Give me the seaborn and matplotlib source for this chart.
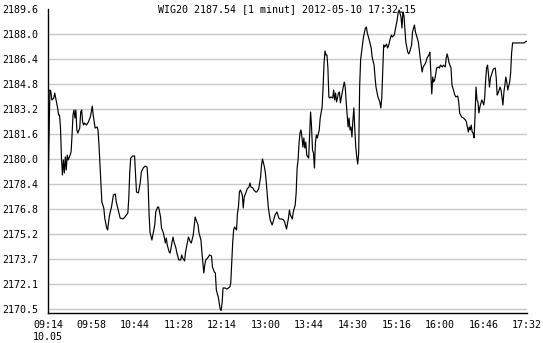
import numpy as np
import pandas as pd
import matplotlib
matplotlib.use("Agg")
import matplotlib.pyplot as plt
import seaborn as sns

title = "WIG20 2187.54 [1 minut] 2012-05-10 17:32:15"

# minutes after 09:14
minutes = [
    0, 1, 2, 3, 4, 6, 7, 8, 10, 11, 12, 13, 14, 15, 16, 17, 18, 19, 20, 21,
    23, 24, 25, 26, 27, 28, 29, 30, 31, 33, 34, 35, 36, 37, 38, 40, 42, 44, 45, 46,
    47, 48, 49, 51, 52, 53, 55, 56, 58, 59, 61, 62, 63, 64, 66, 68, 70, 71, 73, 75,
    78, 80, 83, 84, 85, 86, 88, 90, 91, 92, 94, 96, 97, 99, 101, 103, 104, 105, 106, 108,
    109, 111, 112, 114, 115, 117, 118, 120, 122, 123, 124, 126, 127, 129, 130, 131, 133, 134, 136, 138,
    139, 140, 142, 143, 145, 146, 148, 149, 151, 153, 154, 156, 157, 159, 160, 162, 163, 164, 166, 168,
    170, 171, 173, 174, 175, 177, 179, 180, 181, 182, 184, 186, 189, 190, 191, 192, 193, 194, 196, 197,
    198, 199, 200, 202, 203, 204, 206, 207, 209, 210, 211, 213, 214, 216, 217, 219, 220, 221, 222, 223,
    224, 225, 226, 227, 229, 231, 233, 234, 236, 238, 240, 241, 243, 245, 246, 248, 250, 251, 252, 254,
    255, 257, 258, 259, 260, 261, 262, 263, 264, 265, 266, 267, 268, 269, 271, 272, 273, 274, 275, 276,
    277, 278, 279, 280, 282, 283, 285, 286, 287, 288, 289, 290, 291, 292, 293, 294, 296, 297, 298, 299,
    300, 302, 303, 304, 306, 308, 309, 310, 311, 312, 313, 314, 315, 316, 317, 318, 319, 320, 321, 322,
    323, 324, 325, 326, 328, 330, 331, 332, 334, 336, 337, 339, 340, 341, 343, 345, 346, 347, 348, 349,
    350, 352, 353, 354, 356, 357, 358, 360, 361, 363, 364, 365, 367, 368, 369, 370, 371, 372, 374, 375,
    376, 378, 379, 381, 382, 383, 385, 386, 387, 388, 389, 390, 392, 393, 394, 396, 397, 398, 399, 400,
    401, 402, 403, 404, 406, 407, 408, 410, 411, 413, 414, 415, 416, 417, 419, 420, 422, 423, 424, 426,
    427, 428, 430, 432, 434, 435, 436, 437, 438, 439, 440, 441, 442, 443, 444, 445, 446, 447, 448, 449,
    451, 452, 453, 454, 455, 456, 457, 458, 459, 460, 462, 463, 465, 466, 467, 468, 470, 471, 473, 474,
    475, 476, 477, 478, 480, 481, 482, 483, 495, 497, 498,
]

prices = [
    2178.08, 2181.26, 2184.44, 2184.32, 2183.81, 2183.93, 2184.25, 2183.93, 2183.30, 2182.85,
    2182.85, 2182.02, 2180.11, 2179.03, 2179.99, 2179.16, 2180.18, 2179.35, 2180.30, 2179.99,
    2180.30, 2180.50, 2181.58, 2182.85, 2183.17, 2182.66, 2183.17, 2181.90, 2181.70, 2182.02,
    2183.04, 2183.17, 2182.41, 2182.21, 2182.34, 2182.21, 2182.41, 2182.72, 2183.04, 2183.42,
    2182.85, 2182.41, 2182.02, 2182.09, 2181.90, 2180.94, 2178.59, 2177.31, 2176.93, 2176.29,
    2175.66, 2175.53, 2176.04, 2176.48, 2176.99, 2177.76, 2177.82, 2177.31, 2176.80, 2176.29,
    2176.23, 2176.36, 2176.61, 2177.57, 2179.22, 2180.11, 2180.24, 2180.24, 2179.03, 2177.95,
    2177.89, 2178.59, 2179.22, 2179.48, 2179.60, 2179.54, 2178.59, 2176.68, 2175.40, 2174.89,
    2175.21, 2175.85, 2176.68, 2176.99, 2176.99, 2176.36, 2175.66, 2175.34, 2174.70, 2175.02,
    2174.57, 2174.13, 2174.06, 2174.77, 2175.08, 2174.77, 2174.38, 2174.06, 2173.62, 2173.62,
    2173.94, 2173.75, 2173.56, 2174.13, 2174.77, 2175.08, 2174.77, 2174.70, 2175.21, 2176.36,
    2176.17, 2175.85, 2175.34, 2174.89, 2174.13, 2172.79, 2173.30, 2173.62, 2173.75, 2173.94,
    2173.87, 2173.17, 2172.85, 2172.79, 2171.71, 2171.26, 2170.50, 2170.40, 2170.88, 2171.84,
    2171.84, 2171.77, 2171.90, 2172.15, 2173.43, 2174.70, 2175.53, 2175.72, 2175.53, 2176.61,
    2176.99, 2177.95, 2178.08, 2177.76, 2176.93, 2177.63, 2177.95, 2178.14, 2178.27, 2178.52,
    2178.27, 2178.20, 2178.08, 2177.95, 2177.95, 2178.14, 2178.52, 2178.90, 2179.67, 2180.05,
    2179.79, 2179.54, 2179.16, 2178.52, 2176.99, 2176.17, 2175.85, 2176.04, 2176.48, 2176.68,
    2176.29, 2176.23, 2176.23, 2176.17, 2176.04, 2175.59, 2176.29, 2176.80, 2176.48, 2176.23,
    2176.68, 2177.12, 2177.89, 2179.48, 2179.99, 2181.07, 2181.70, 2181.90, 2181.45, 2180.81,
    2181.39, 2180.75, 2181.13, 2180.30, 2180.11, 2181.58, 2183.04, 2182.09, 2180.62, 2180.43,
    2179.48, 2181.07, 2181.58, 2181.39, 2181.90, 2182.66, 2183.36, 2184.63, 2186.16, 2186.93,
    2186.67, 2186.67, 2185.84, 2184.00, 2183.93, 2184.00, 2183.93, 2184.44, 2183.81, 2184.25,
    2183.68, 2184.25, 2184.32, 2183.62, 2184.32, 2184.95, 2184.63, 2183.68, 2182.85, 2182.09,
    2182.66, 2181.90, 2182.09, 2181.45, 2182.53, 2183.30, 2181.90, 2180.81, 2180.18, 2179.73,
    2180.43, 2184.63, 2186.35, 2186.86, 2187.82, 2188.39, 2188.45, 2188.07, 2187.63, 2187.12,
    2186.54, 2186.03, 2185.27, 2184.63, 2184.00, 2183.68, 2183.30, 2183.93, 2185.59, 2187.31,
    2187.18, 2187.37, 2187.12, 2187.24, 2187.75, 2187.94, 2187.82, 2187.94, 2188.26, 2188.90,
    2189.35, 2189.54, 2189.09, 2188.39, 2189.41, 2189.22, 2188.39, 2187.50, 2186.86, 2186.74,
    2186.86, 2187.31, 2188.14, 2188.58, 2188.14, 2187.94, 2187.50, 2186.99, 2186.48, 2186.03,
    2185.59, 2185.91, 2186.10, 2186.23, 2186.48, 2186.67, 2186.86, 2185.59, 2184.19, 2185.27,
    2184.95, 2185.08, 2185.40, 2185.84, 2185.91, 2185.84, 2186.03, 2185.91, 2186.03, 2185.91,
    2186.48, 2186.74, 2186.48, 2186.16, 2185.84, 2184.76, 2184.32, 2184.12, 2184.00, 2184.06,
    2183.68, 2182.98, 2182.72, 2182.66, 2182.53, 2182.41, 2182.09, 2181.77, 2182.09, 2181.90,
    2182.21, 2181.77, 2181.70, 2181.39, 2182.85, 2184.63, 2183.81, 2183.68, 2182.98, 2183.36,
    2183.81, 2183.68, 2183.49, 2183.93, 2185.08, 2185.84, 2186.03, 2185.40, 2184.63, 2185.21,
    2185.59, 2185.78, 2185.84, 2185.21, 2184.12, 2184.25, 2184.63, 2184.44, 2183.49, 2184.32,
    2184.76, 2185.27, 2184.95, 2184.44, 2184.95, 2185.53, 2186.80, 2187.44, 2187.44, 2187.54,
    2187.54,
]

x_tick_labels = ["09:14\n10.05", "09:58", "10:44", "11:28", "12:14", "13:00",
                 "13:44", "14:30", "15:16", "16:00", "16:46", "17:32"]
y_tick_labels = ["2170.5", "2172.1", "2173.7", "2175.2", "2176.8", "2178.4", "2180.0",
                 "2181.6", "2183.2", "2184.8", "2186.4", "2188.0", "2189.6"]

df = pd.DataFrame({"minute": minutes, "price": prices})

sns.set_style("white")
plt.rcParams["font.family"] = ["DejaVu Sans Mono", "DejaVu Sans"]

W, H = 543, 343
fig = plt.figure(figsize=(W / 100, H / 100), dpi=100)
left, right, top, bottom = 48, 527, 9, 313
ax = fig.add_axes([left / W, 1 - bottom / H, (right - left) / W, (bottom - top) / H])

sns.lineplot(data=df, x="minute", y="price", ax=ax, color="black",
             linewidth=0.85, estimator=None, sort=False)

y_lo, y_hi = 2170.5, 2189.6
per_px = (y_hi - y_lo) / 300.0
ax.set_ylim(y_lo - 4 * per_px, y_hi)
ax.set_xlim(0, 498)

yt = np.linspace(y_lo, y_hi, len(y_tick_labels))
ax.set_yticks(yt)
ax.set_yticklabels(y_tick_labels)
xt = np.linspace(0, 498, len(x_tick_labels))
ax.set_xticks(xt)
ax.set_xticklabels(x_tick_labels, ha="center", va="top")

ax.grid(axis="y", color="#c8c8c8", linewidth=1.0)
ax.grid(axis="x", visible=False)
ax.yaxis.get_gridlines()[-1].set_visible(False)
ax.set_axisbelow(True)

for s in ["top", "right"]:
    ax.spines[s].set_visible(False)
for s in ["left", "bottom"]:
    ax.spines[s].set_color("black")
    ax.spines[s].set_linewidth(1.0)

ax.tick_params(axis="both", direction="in", length=3, width=1.0, color="black",
               labelsize=7.2, labelcolor="black")
ax.tick_params(axis="y", pad=7)
ax.tick_params(axis="x", pad=5)

ax.set_xlabel("")
ax.set_ylabel("")

fig.text((left + right) / 2 / W, 1 - 12 / H, title, ha="center", va="baseline",
         fontsize=7.2, color="black", family=["DejaVu Sans Mono", "DejaVu Sans"])

fig.savefig("out.png", dpi=100)
